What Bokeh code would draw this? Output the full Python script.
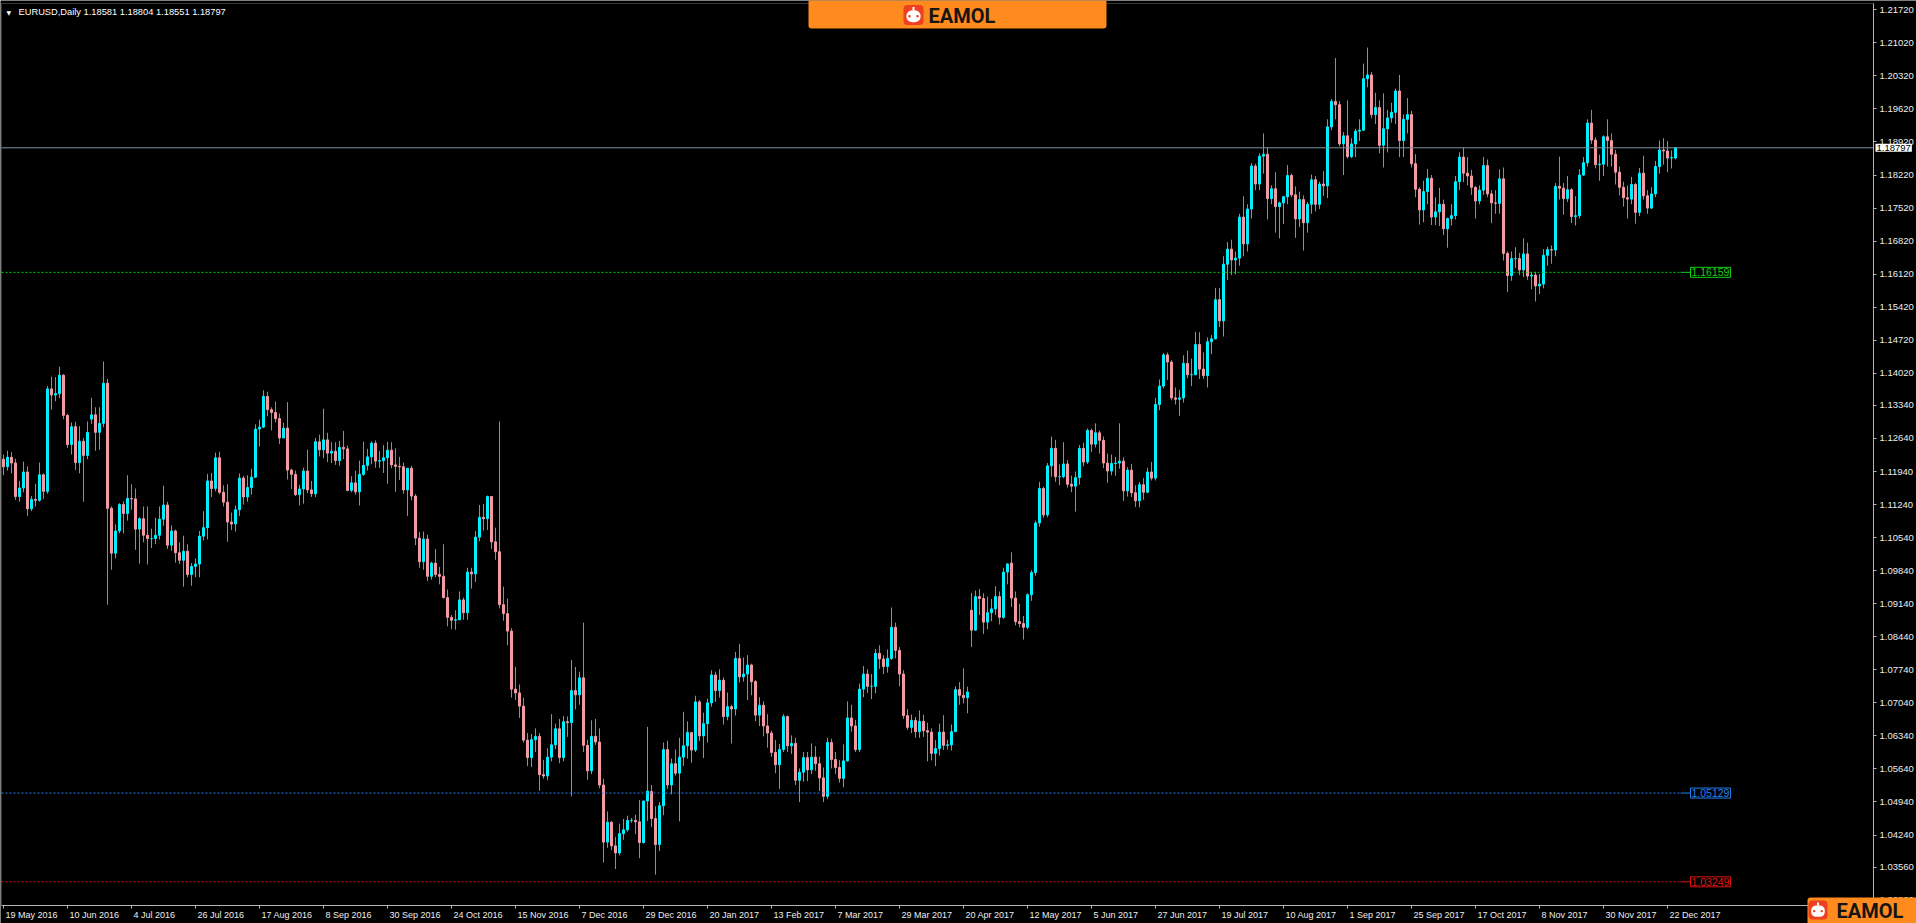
import numpy as np
from bokeh.plotting import figure
from bokeh.models import (Range1d, FixedTicker, PrintfTickFormatter, Label,
                          BoxAnnotation, LinearAxis, ColumnDataSource)
from bokeh.embed import file_html
from bokeh.resources import INLINE

# ---------------- data (O, H, L, C) per trading day ----------------
may_2016 = [
    (1.1220, 1.1230, 1.1186, 1.1204), (1.1204, 1.1238, 1.1196, 1.1224), (1.1224, 1.1235, 1.1190, 1.1212),
    (1.1212, 1.1221, 1.1134, 1.1141), (1.1141, 1.1174, 1.1130, 1.1159), (1.1159, 1.1215, 1.1150, 1.1193),
    (1.1193, 1.1205, 1.1100, 1.1115), (1.1115, 1.1142, 1.1110, 1.1135), (1.1135, 1.1168, 1.1120, 1.1133),
]
jun_2016 = [
    (1.1133, 1.1213, 1.1130, 1.1187), (1.1187, 1.1190, 1.1136, 1.1152), (1.1152, 1.1375, 1.1147, 1.1369),
    (1.1369, 1.1395, 1.1325, 1.1356), (1.1356, 1.1394, 1.1343, 1.1359), (1.1359, 1.1416, 1.1350, 1.1398),
    (1.1398, 1.1400, 1.1305, 1.1313), (1.1313, 1.1316, 1.1244, 1.1251), (1.1251, 1.1298, 1.1230, 1.1289),
    (1.1289, 1.1299, 1.1197, 1.1213), (1.1213, 1.1290, 1.1190, 1.1258), (1.1258, 1.1265, 1.1130, 1.1228),
    (1.1228, 1.1300, 1.1220, 1.1277), (1.1305, 1.1350, 1.1295, 1.1314), (1.1314, 1.1330, 1.1238, 1.1277),
    (1.1277, 1.1330, 1.1240, 1.1296), (1.1296, 1.1427, 1.1288, 1.1381), (1.1381, 1.1390, 1.0912, 1.1116),
    (1.1116, 1.1120, 1.0986, 1.1021), (1.1021, 1.1082, 1.1010, 1.1068), (1.1068, 1.1127, 1.1063, 1.1124),
    (1.1124, 1.1131, 1.1063, 1.1105),
]
jul_2016 = [
    (1.1105, 1.1186, 1.1090, 1.1137), (1.1137, 1.1167, 1.1113, 1.1136), (1.1136, 1.1158, 1.1028, 1.1072),
    (1.1072, 1.1097, 1.0999, 1.1094), (1.1094, 1.1120, 1.1044, 1.1059), (1.1059, 1.1120, 1.0997, 1.1052),
    (1.1052, 1.1073, 1.1032, 1.1052), (1.1052, 1.1096, 1.1040, 1.1059), (1.1059, 1.1120, 1.1050, 1.1093),
    (1.1093, 1.1164, 1.1079, 1.1123), (1.1123, 1.1130, 1.1030, 1.1038), (1.1038, 1.1080, 1.1026, 1.1068),
    (1.1068, 1.1071, 1.1001, 1.1022), (1.1022, 1.1044, 1.0998, 1.1006), (1.1006, 1.1058, 1.0950, 1.1025),
    (1.1025, 1.1040, 1.0970, 1.0976), (1.0976, 1.1000, 1.0952, 1.0993), (1.0993, 1.1010, 1.0970, 1.0998),
    (1.0998, 1.1068, 1.0970, 1.1057), (1.1057, 1.1110, 1.1048, 1.1075), (1.1075, 1.1189, 1.1050, 1.1174),
]
aug_2016 = [
    (1.1174, 1.1191, 1.1140, 1.1158), (1.1158, 1.1234, 1.1152, 1.1223), (1.1223, 1.1236, 1.1146, 1.1150),
    (1.1150, 1.1165, 1.1120, 1.1129), (1.1129, 1.1167, 1.1045, 1.1087), (1.1087, 1.1107, 1.1070, 1.1083),
    (1.1083, 1.1122, 1.1067, 1.1113), (1.1113, 1.1190, 1.1100, 1.1180), (1.1180, 1.1185, 1.1124, 1.1140),
    (1.1140, 1.1186, 1.1130, 1.1160), (1.1160, 1.1200, 1.1145, 1.1182), (1.1182, 1.1294, 1.1180, 1.1284),
    (1.1284, 1.1304, 1.1247, 1.1288), (1.1288, 1.1366, 1.1286, 1.1353), (1.1353, 1.1363, 1.1311, 1.1325),
    (1.1325, 1.1330, 1.1281, 1.1319), (1.1319, 1.1342, 1.1298, 1.1306), (1.1306, 1.1317, 1.1252, 1.1265),
    (1.1265, 1.1297, 1.1265, 1.1286), (1.1286, 1.1341, 1.1177, 1.1197), (1.1197, 1.1200, 1.1157, 1.1188),
    (1.1188, 1.1196, 1.1142, 1.1145), (1.1145, 1.1166, 1.1122, 1.1157),
]
sep_2016 = [
    (1.1157, 1.1202, 1.1126, 1.1195), (1.1195, 1.1240, 1.1148, 1.1155), (1.1155, 1.1174, 1.1140, 1.1147),
    (1.1147, 1.1265, 1.1140, 1.1257), (1.1257, 1.1272, 1.1226, 1.1240), (1.1240, 1.1327, 1.1222, 1.1261),
    (1.1261, 1.1276, 1.1214, 1.1233), (1.1233, 1.1256, 1.1212, 1.1237), (1.1237, 1.1256, 1.1208, 1.1217),
    (1.1217, 1.1259, 1.1206, 1.1245), (1.1245, 1.1280, 1.1220, 1.1242), (1.1242, 1.1249, 1.1152, 1.1154),
    (1.1154, 1.1184, 1.1150, 1.1170), (1.1170, 1.1196, 1.1145, 1.1151), (1.1151, 1.1217, 1.1122, 1.1188),
    (1.1188, 1.1257, 1.1185, 1.1207), (1.1207, 1.1242, 1.1196, 1.1225), (1.1225, 1.1258, 1.1210, 1.1254),
    (1.1254, 1.1260, 1.1202, 1.1216), (1.1216, 1.1237, 1.1202, 1.1217), (1.1217, 1.1250, 1.1191, 1.1223),
    (1.1223, 1.1257, 1.1168, 1.1239),
]
oct_2016 = [
    (1.1239, 1.1256, 1.1201, 1.1208), (1.1208, 1.1243, 1.1151, 1.1205), (1.1205, 1.1225, 1.1176, 1.1204),
    (1.1204, 1.1213, 1.1147, 1.1155), (1.1155, 1.1200, 1.1100, 1.1201), (1.1201, 1.1206, 1.1133, 1.1142),
    (1.1142, 1.1146, 1.1038, 1.1053), (1.1053, 1.1066, 1.0990, 1.1003), (1.1003, 1.1067, 1.0986, 1.1051),
    (1.1051, 1.1060, 1.0962, 1.0972), (1.0972, 1.1003, 1.0965, 1.1000), (1.1000, 1.1030, 1.0970, 1.0976),
    (1.0976, 1.0992, 1.0955, 1.0972), (1.0972, 1.1040, 1.0925, 1.0927), (1.0927, 1.0944, 1.0866, 1.0885),
    (1.0885, 1.0890, 1.0860, 1.0879), (1.0879, 1.0900, 1.0859, 1.0880), (1.0880, 1.0940, 1.0879, 1.0922),
    (1.0922, 1.0927, 1.0880, 1.0895), (1.0895, 1.0990, 1.0880, 1.0981), (1.0981, 1.0990, 1.0946, 1.0977),
]
nov_2016 = [
    (1.0977, 1.1068, 1.0960, 1.1055), (1.1055, 1.1123, 1.1046, 1.1097), (1.1097, 1.1125, 1.1069, 1.1094),
    (1.1094, 1.1143, 1.1070, 1.1141), (1.1141, 1.1142, 1.1030, 1.1045), (1.1045, 1.1075, 1.1007, 1.1024),
    (1.1024, 1.1300, 1.0904, 1.0912), (1.0912, 1.0950, 1.0878, 1.0893), (1.0893, 1.0925, 1.0826, 1.0856),
    (1.0856, 1.0862, 1.0715, 1.0733), (1.0733, 1.0780, 1.0710, 1.0725), (1.0725, 1.0743, 1.0672, 1.0697),
    (1.0697, 1.0715, 1.0620, 1.0625), (1.0625, 1.0640, 1.0570, 1.0588), (1.0588, 1.0638, 1.0568, 1.0626),
    (1.0626, 1.0650, 1.0600, 1.0633), (1.0633, 1.0640, 1.0518, 1.0552), (1.0552, 1.0583, 1.0543, 1.0549),
    (1.0549, 1.0608, 1.0540, 1.0589), (1.0589, 1.0680, 1.0580, 1.0615), (1.0615, 1.0660, 1.0606, 1.0649),
    (1.0649, 1.0670, 1.0576, 1.0588),
]
dec_2016 = [
    (1.0588, 1.0676, 1.0580, 1.0664), (1.0664, 1.0675, 1.0632, 1.0662), (1.0662, 1.0795, 1.0506, 1.0730),
    (1.0730, 1.0780, 1.0690, 1.0721), (1.0721, 1.0770, 1.0700, 1.0757), (1.0757, 1.0874, 1.0600, 1.0614),
    (1.0614, 1.0626, 1.0541, 1.0560), (1.0560, 1.0667, 1.0553, 1.0633), (1.0633, 1.0670, 1.0615, 1.0621),
    (1.0621, 1.0650, 1.0523, 1.0530), (1.0530, 1.0543, 1.0366, 1.0409), (1.0409, 1.0474, 1.0397, 1.0451),
    (1.0451, 1.0454, 1.0392, 1.0401), (1.0401, 1.0420, 1.0352, 1.0386), (1.0386, 1.0448, 1.0381, 1.0427),
    (1.0427, 1.0458, 1.0414, 1.0435), (1.0435, 1.0465, 1.0431, 1.0455), (1.0455, 1.0460, 1.0450, 1.0455),
    (1.0455, 1.0467, 1.0426, 1.0452), (1.0452, 1.0498, 1.0375, 1.0408), (1.0408, 1.0497, 1.0406, 1.0496),
    (1.0496, 1.0653, 1.0454, 1.0517),
]
jan_2017 = [
    (1.0516, 1.0530, 1.0441, 1.0459), (1.0459, 1.0485, 1.0340, 1.0404), (1.0404, 1.0494, 1.0390, 1.0486),
    (1.0486, 1.0620, 1.0466, 1.0605), (1.0605, 1.0624, 1.0522, 1.0530), (1.0530, 1.0586, 1.0510, 1.0575),
    (1.0575, 1.0605, 1.0550, 1.0555), (1.0555, 1.0630, 1.0453, 1.0589), (1.0589, 1.0685, 1.0570, 1.0613),
    (1.0613, 1.0665, 1.0586, 1.0641), (1.0641, 1.0641, 1.0577, 1.0604), (1.0604, 1.0719, 1.0600, 1.0706),
    (1.0706, 1.0710, 1.0623, 1.0634), (1.0634, 1.0683, 1.0587, 1.0660), (1.0660, 1.0713, 1.0620, 1.0704),
    (1.0704, 1.0773, 1.0696, 1.0763), (1.0763, 1.0770, 1.0706, 1.0730), (1.0730, 1.0775, 1.0715, 1.0752),
    (1.0752, 1.0758, 1.0658, 1.0675), (1.0675, 1.0726, 1.0667, 1.0696), (1.0696, 1.0700, 1.0618, 1.0691),
    (1.0691, 1.0812, 1.0677, 1.0798),
]
feb_2017 = [
    (1.0798, 1.0829, 1.0747, 1.0759), (1.0759, 1.0800, 1.0749, 1.0765), (1.0765, 1.0805, 1.0710, 1.0784),
    (1.0784, 1.0787, 1.0720, 1.0749), (1.0749, 1.0752, 1.0665, 1.0678), (1.0678, 1.0716, 1.0655, 1.0699),
    (1.0699, 1.0707, 1.0633, 1.0655), (1.0655, 1.0680, 1.0609, 1.0640), (1.0640, 1.0645, 1.0590, 1.0599),
    (1.0599, 1.0625, 1.0555, 1.0573), (1.0573, 1.0617, 1.0522, 1.0605), (1.0605, 1.0680, 1.0600, 1.0675),
    (1.0675, 1.0677, 1.0600, 1.0613), (1.0613, 1.0635, 1.0596, 1.0618), (1.0618, 1.0630, 1.0530, 1.0540),
    (1.0540, 1.0565, 1.0494, 1.0557), (1.0557, 1.0600, 1.0537, 1.0588), (1.0588, 1.0600, 1.0538, 1.0562),
    (1.0562, 1.0618, 1.0553, 1.0589), (1.0589, 1.0612, 1.0560, 1.0575),
]
mar_2017 = [
    (1.0575, 1.0590, 1.0517, 1.0545), (1.0545, 1.0567, 1.0494, 1.0506), (1.0506, 1.0630, 1.0500, 1.0620),
    (1.0620, 1.0628, 1.0565, 1.0584), (1.0584, 1.0600, 1.0553, 1.0567), (1.0567, 1.0583, 1.0535, 1.0544),
    (1.0544, 1.0616, 1.0525, 1.0581), (1.0581, 1.0707, 1.0580, 1.0672), (1.0672, 1.0700, 1.0643, 1.0655),
    (1.0655, 1.0668, 1.0600, 1.0605), (1.0605, 1.0745, 1.0600, 1.0733), (1.0733, 1.0782, 1.0716, 1.0765),
    (1.0765, 1.0775, 1.0725, 1.0739), (1.0739, 1.0765, 1.0712, 1.0739), (1.0739, 1.0818, 1.0724, 1.0809),
    (1.0809, 1.0826, 1.0776, 1.0797), (1.0797, 1.0805, 1.0765, 1.0781), (1.0781, 1.0817, 1.0768, 1.0798),
    (1.0798, 1.0906, 1.0795, 1.0864), (1.0864, 1.0874, 1.0798, 1.0815), (1.0815, 1.0822, 1.0739, 1.0765),
    (1.0765, 1.0773, 1.0670, 1.0677), (1.0677, 1.0691, 1.0647, 1.0652),
]
apr_2017 = [
    (1.0652, 1.0679, 1.0640, 1.0667), (1.0667, 1.0674, 1.0630, 1.0643), (1.0643, 1.0688, 1.0630, 1.0665),
    (1.0665, 1.0679, 1.0632, 1.0645), (1.0645, 1.0662, 1.0580, 1.0642), (1.0642, 1.0650, 1.0582, 1.0597),
    (1.0597, 1.0625, 1.0570, 1.0607), (1.0607, 1.0660, 1.0592, 1.0642), (1.0642, 1.0678, 1.0604, 1.0614),
    (1.0614, 1.0626, 1.0605, 1.0615), (1.0615, 1.0658, 1.0603, 1.0643), (1.0643, 1.0739, 1.0643, 1.0732),
    (1.0732, 1.0748, 1.0700, 1.0720), (1.0720, 1.0777, 1.0703, 1.0715), (1.0715, 1.0738, 1.0682, 1.0727),
    (1.0900, 1.0937, 1.0822, 1.0858), (1.0858, 1.0942, 1.0857, 1.0929), (1.0929, 1.0945, 1.0890, 1.0925),
    (1.0925, 1.0936, 1.0850, 1.0875), (1.0875, 1.0929, 1.0860, 1.0895),
]
may_2017 = [
    (1.0895, 1.0924, 1.0877, 1.0903), (1.0903, 1.0951, 1.0890, 1.0929), (1.0929, 1.0940, 1.0870, 1.0885),
    (1.0885, 1.0990, 1.0882, 1.0981), (1.0981, 1.1000, 1.0955, 1.0998), (1.1000, 1.1023, 1.0907, 1.0926),
    (1.0926, 1.0940, 1.0868, 1.0876), (1.0876, 1.0914, 1.0864, 1.0872), (1.0872, 1.0888, 1.0838, 1.0864),
    (1.0864, 1.0936, 1.0860, 1.0933), (1.0933, 1.0985, 1.0920, 1.0980), (1.0980, 1.1090, 1.0973, 1.1085),
    (1.1085, 1.1172, 1.1077, 1.1158), (1.1158, 1.1162, 1.1096, 1.1102), (1.1102, 1.1212, 1.1097, 1.1206),
    (1.1206, 1.1268, 1.1183, 1.1243), (1.1243, 1.1261, 1.1172, 1.1183), (1.1183, 1.1209, 1.1165, 1.1183),
    (1.1183, 1.1256, 1.1180, 1.1210), (1.1210, 1.1218, 1.1160, 1.1167), (1.1167, 1.1185, 1.1150, 1.1163),
    (1.1163, 1.1194, 1.1109, 1.1181), (1.1181, 1.1250, 1.1166, 1.1243),
]
jun_2017 = [
    (1.1243, 1.1255, 1.1205, 1.1214), (1.1214, 1.1285, 1.1210, 1.1281), (1.1281, 1.1285, 1.1235, 1.1252),
    (1.1252, 1.1296, 1.1245, 1.1276), (1.1276, 1.1281, 1.1232, 1.1260), (1.1260, 1.1268, 1.1201, 1.1212),
    (1.1212, 1.1232, 1.1170, 1.1195), (1.1195, 1.1230, 1.1186, 1.1211), (1.1211, 1.1225, 1.1185, 1.1212),
    (1.1212, 1.1296, 1.1200, 1.1216), (1.1216, 1.1224, 1.1132, 1.1153), (1.1153, 1.1203, 1.1141, 1.1197),
    (1.1197, 1.1210, 1.1140, 1.1149), (1.1149, 1.1165, 1.1119, 1.1132), (1.1132, 1.1172, 1.1118, 1.1166),
    (1.1166, 1.1180, 1.1134, 1.1150), (1.1150, 1.1202, 1.1148, 1.1193), (1.1193, 1.1214, 1.1175, 1.1180),
    (1.1180, 1.1350, 1.1175, 1.1336), (1.1336, 1.1389, 1.1324, 1.1375), (1.1375, 1.1445, 1.1370, 1.1441),
    (1.1441, 1.1446, 1.1388, 1.1426),
]
jul_2017 = [
    (1.1426, 1.1430, 1.1345, 1.1350), (1.1350, 1.1372, 1.1336, 1.1347), (1.1347, 1.1367, 1.1312, 1.1350),
    (1.1350, 1.1440, 1.1340, 1.1423), (1.1423, 1.1450, 1.1392, 1.1399), (1.1399, 1.1433, 1.1375, 1.1399),
    (1.1399, 1.1490, 1.1398, 1.1463), (1.1463, 1.1489, 1.1390, 1.1411), (1.1411, 1.1446, 1.1390, 1.1397),
    (1.1397, 1.1478, 1.1372, 1.1469), (1.1469, 1.1483, 1.1443, 1.1475), (1.1475, 1.1583, 1.1474, 1.1558),
    (1.1558, 1.1583, 1.1500, 1.1513), (1.1513, 1.1650, 1.1480, 1.1633), (1.1633, 1.1680, 1.1600, 1.1665),
    (1.1665, 1.1685, 1.1610, 1.1642), (1.1642, 1.1660, 1.1612, 1.1646), (1.1646, 1.1740, 1.1630, 1.1733),
    (1.1733, 1.1777, 1.1650, 1.1676), (1.1676, 1.1760, 1.1660, 1.1750), (1.1750, 1.1847, 1.1730, 1.1841),
]
aug_2017 = [
    (1.1841, 1.1846, 1.1790, 1.1803), (1.1803, 1.1868, 1.1790, 1.1862), (1.1862, 1.1910, 1.1825, 1.1866),
    (1.1866, 1.1880, 1.1728, 1.1772), (1.1772, 1.1800, 1.1760, 1.1793), (1.1793, 1.1828, 1.1700, 1.1755),
    (1.1755, 1.1766, 1.1688, 1.1763), (1.1763, 1.1778, 1.1718, 1.1776), (1.1776, 1.1843, 1.1760, 1.1821),
    (1.1821, 1.1825, 1.1775, 1.1780), (1.1780, 1.1798, 1.1689, 1.1729), (1.1729, 1.1787, 1.1712, 1.1770),
    (1.1770, 1.1779, 1.1662, 1.1721), (1.1721, 1.1765, 1.1700, 1.1760), (1.1760, 1.1823, 1.1740, 1.1812),
    (1.1812, 1.1820, 1.1745, 1.1760), (1.1760, 1.1808, 1.1750, 1.1803), (1.1803, 1.1830, 1.1778, 1.1799),
    (1.1799, 1.1940, 1.1773, 1.1924), (1.1924, 1.1983, 1.1917, 1.1978), (1.1978, 1.2070, 1.1940, 1.1971),
    (1.1971, 1.1979, 1.1883, 1.1888), (1.1888, 1.1913, 1.1822, 1.1905),
]
sep_2017 = [
    (1.1905, 1.1980, 1.1857, 1.1861), (1.1861, 1.1900, 1.1858, 1.1888), (1.1888, 1.1920, 1.1860, 1.1915),
    (1.1915, 1.1940, 1.1894, 1.1917), (1.1917, 1.2058, 1.1915, 1.2026), (1.2026, 1.2092, 1.2008, 1.2034),
    (1.2034, 1.2040, 1.1942, 1.1950), (1.1950, 1.1996, 1.1930, 1.1965), (1.1965, 1.1980, 1.1868, 1.1885),
    (1.1885, 1.1995, 1.1838, 1.1920), (1.1920, 1.1960, 1.1870, 1.1943), (1.1943, 1.1975, 1.1933, 1.1955),
    (1.1955, 1.2005, 1.1930, 1.2000), (1.2000, 1.2034, 1.1860, 1.1895), (1.1895, 1.1950, 1.1860, 1.1940),
    (1.1940, 1.1985, 1.1910, 1.1950), (1.1950, 1.1958, 1.1838, 1.1846), (1.1846, 1.1866, 1.1775, 1.1792),
    (1.1792, 1.1796, 1.1717, 1.1748), (1.1748, 1.1810, 1.1722, 1.1787), (1.1787, 1.1835, 1.1760, 1.1815),
]
oct_2017 = [
    (1.1815, 1.1822, 1.1716, 1.1733), (1.1733, 1.1775, 1.1716, 1.1744), (1.1744, 1.1795, 1.1714, 1.1760),
    (1.1760, 1.1770, 1.1695, 1.1708), (1.1708, 1.1732, 1.1668, 1.1730), (1.1730, 1.1760, 1.1715, 1.1736),
    (1.1736, 1.1820, 1.1728, 1.1808), (1.1808, 1.1870, 1.1790, 1.1860), (1.1860, 1.1880, 1.1807, 1.1826),
    (1.1826, 1.1860, 1.1800, 1.1820), (1.1820, 1.1833, 1.1780, 1.1796), (1.1796, 1.1798, 1.1730, 1.1767),
    (1.1767, 1.1800, 1.1760, 1.1790), (1.1790, 1.1860, 1.1780, 1.1842), (1.1842, 1.1855, 1.1775, 1.1782),
    (1.1782, 1.1790, 1.1720, 1.1763), (1.1763, 1.1790, 1.1740, 1.1762), (1.1762, 1.1834, 1.1740, 1.1814),
    (1.1814, 1.1838, 1.1641, 1.1656), (1.1656, 1.1660, 1.1574, 1.1609), (1.1609, 1.1660, 1.1598, 1.1645),
    (1.1645, 1.1669, 1.1625, 1.1645),
]
nov_2017 = [
    (1.1645, 1.1657, 1.1610, 1.1621), (1.1621, 1.1688, 1.1606, 1.1655), (1.1655, 1.1679, 1.1600, 1.1608),
    (1.1608, 1.1617, 1.1580, 1.1610), (1.1610, 1.1617, 1.1554, 1.1587), (1.1587, 1.1612, 1.1570, 1.1591),
    (1.1591, 1.1665, 1.1582, 1.1652), (1.1652, 1.1670, 1.1630, 1.1664), (1.1664, 1.1673, 1.1634, 1.1663),
    (1.1663, 1.1805, 1.1650, 1.1798), (1.1798, 1.1861, 1.1770, 1.1794), (1.1794, 1.1805, 1.1738, 1.1772),
    (1.1772, 1.1820, 1.1765, 1.1791), (1.1791, 1.1794, 1.1720, 1.1734), (1.1734, 1.1777, 1.1715, 1.1736),
    (1.1736, 1.1834, 1.1730, 1.1822), (1.1822, 1.1860, 1.1820, 1.1848), (1.1848, 1.1940, 1.1840, 1.1932),
    (1.1932, 1.1960, 1.1888, 1.1896), (1.1896, 1.1902, 1.1836, 1.1844), (1.1844, 1.1865, 1.1810, 1.1845),
    (1.1845, 1.1906, 1.1820, 1.1903),
]
dec_2017 = [
    (1.1903, 1.1940, 1.1840, 1.1895), (1.1895, 1.1910, 1.1840, 1.1866), (1.1866, 1.1875, 1.1802, 1.1828),
    (1.1828, 1.1840, 1.1779, 1.1796), (1.1796, 1.1808, 1.1755, 1.1774), (1.1774, 1.1800, 1.1730, 1.1771),
    (1.1771, 1.1818, 1.1760, 1.1802), (1.1802, 1.1805, 1.1719, 1.1743), (1.1743, 1.1837, 1.1735, 1.1826),
    (1.1826, 1.1863, 1.1770, 1.1778), (1.1778, 1.1790, 1.1740, 1.1752), (1.1752, 1.1796, 1.1750, 1.1782),
    (1.1782, 1.1852, 1.1775, 1.1840), (1.1840, 1.1895, 1.1825, 1.1875), (1.1875, 1.1900, 1.1844, 1.1873),
    (1.1873, 1.1894, 1.1828, 1.1858), (1.1858, 1.1874, 1.1836, 1.1859), (1.18581, 1.18804, 1.18551, 1.18797),
]

symbol_title = "EURUSD,Daily"
x_tick_labels = ["19 May 2016", "10 Jun 2016", "4 Jul 2016", "26 Jul 2016", "17 Aug 2016", "8 Sep 2016",
                 "30 Sep 2016", "24 Oct 2016", "15 Nov 2016", "7 Dec 2016", "29 Dec 2016", "20 Jan 2017",
                 "13 Feb 2017", "7 Mar 2017", "29 Mar 2017", "20 Apr 2017", "12 May 2017", "5 Jun 2017",
                 "27 Jun 2017", "19 Jul 2017", "10 Aug 2017", "1 Sep 2017", "25 Sep 2017", "17 Oct 2017",
                 "8 Nov 2017", "30 Nov 2017", "22 Dec 2017"]
y_tick_values = [1.02860, 1.03560, 1.04240, 1.04940, 1.05640, 1.06340, 1.07040, 1.07740, 1.08440,
                 1.09140, 1.09840, 1.10540, 1.11240, 1.11940, 1.12640, 1.13340, 1.14020, 1.14720,
                 1.15420, 1.16120, 1.16820, 1.17520, 1.18220, 1.18920, 1.19620, 1.20320, 1.21020, 1.21720]
level_values = [1.16159, 1.05129, 1.03249]
level_colors = ["#10D010", "#2080F0", "#E01010"]

# ---------------- assemble ----------------
months = [may_2016, jun_2016, jul_2016, aug_2016, sep_2016, oct_2016, nov_2016, dec_2016,
          jan_2017, feb_2017, mar_2017, apr_2017, may_2017, jun_2017, jul_2017, aug_2017,
          sep_2017, oct_2017, nov_2017, dec_2017]
ohlc = np.array([row for m in months for row in m])
opens, highs, lows, closes = ohlc.T
n = len(closes)
idx = np.arange(n)
up = closes >= opens

BULL_BODY, BULL_WICK = "#00F0FF", "#22BFCB"
BEAR_BODY, BEAR_WICK = "#F49AA4", "#B57C84"

src = ColumnDataSource(dict(
    x=idx, o=opens, h=highs, l=lows, c=closes,
    top=np.maximum(opens, closes), bottom=np.minimum(opens, closes),
    body=[BULL_BODY if u else BEAR_BODY for u in up],
    wick=[BULL_WICK if u else BEAR_WICK for u in up],
))

# ---------------- geometry: reference pixel -> data helpers ----------------
W, H = 1916, 923
BAR_PX, BAR0_PX = 4.0, 3.0            # bar pitch / first bar position
PRICE_PX, PRICE_REF, PRICE_REF_Y = 4721.0, 1.21720, 9.3


def dx(X):
    return (X - BAR0_PX) / BAR_PX


def dy(Y):
    return PRICE_REF - (Y - PRICE_REF_Y) / PRICE_PX


LEFT, RIGHT, TOP, BOTTOM = dx(1), dx(1873), dy(3), dy(905)   # MT4 chart window frame

p = figure(width=W, height=H, output_backend="svg", toolbar_location=None,
           x_range=Range1d(dx(0), dx(W)), y_range=Range1d(dy(H), dy(0)),
           x_axis_location=None, y_axis_location=None,
           background_fill_color="#000000", border_fill_color="#000000",
           min_border=0, outline_line_color=None)
p.grid.visible = False

FONT = "Liberation Sans"
AX_COLOR = "#B4B4B4"
TXT = "#EDEDED"

# chart window frame
p.add_layout(BoxAnnotation(left=LEFT, right=RIGHT, top=TOP, bottom=BOTTOM, fill_alpha=0,
                           line_color=AX_COLOR, line_width=1, level="underlay"))

# right price axis
ya = LinearAxis(fixed_location=RIGHT, bounds=(BOTTOM, TOP),
                ticker=FixedTicker(ticks=y_tick_values),
                formatter=PrintfTickFormatter(format="%.5f"))
ya.axis_line_color = AX_COLOR
ya.major_tick_line_color = AX_COLOR
ya.major_tick_out = 3
ya.major_tick_in = 0
ya.minor_tick_line_color = None
ya.major_label_standoff = 3
ya.major_label_text_font = FONT
ya.major_label_text_font_size = "9.5px"
ya.major_label_text_color = TXT
p.add_layout(ya, "right")

# bottom date axis: tick marks at the bars ...
x_ticks = [16 * i for i in range(len(x_tick_labels))]
xa_marks = LinearAxis(fixed_location=BOTTOM, bounds=(LEFT, RIGHT), ticker=FixedTicker(ticks=x_ticks))
xa_marks.major_label_overrides = {t: "" for t in x_ticks}
xa_marks.axis_line_color = AX_COLOR
xa_marks.major_tick_line_color = AX_COLOR
xa_marks.major_tick_out = 3
xa_marks.major_tick_in = 0
xa_marks.minor_tick_line_color = None
p.add_layout(xa_marks, "below")

# ... and labels that start at each tick (MT4 style, left aligned)
CHAR_EM = {" ": .278, "M": .833, "J": .5, "A": .667, "S": .667, "O": .778, "N": .722, "D": .722,
           "F": .611, "a": .556, "y": .5, "u": .556, "n": .556, "l": .222, "g": .556, "e": .556,
           "p": .556, "c": .5, "t": .278, "o": .556, "v": .5, "b": .556, "r": .333}
XFONT = 9.0
px_per_bar = W / (dx(W) - dx(0))
label_pos = []
for t, lab in zip(x_ticks, x_tick_labels):
    wpx = sum(CHAR_EM.get(ch, .556) for ch in lab) * XFONT
    label_pos.append(round(t + (2 + wpx / 2) / px_per_bar, 3))
xa_lab = LinearAxis(fixed_location=BOTTOM, bounds=(LEFT, RIGHT), ticker=FixedTicker(ticks=label_pos))
xa_lab.major_label_overrides = {pos: lab for pos, lab in zip(label_pos, x_tick_labels)}
xa_lab.axis_line_color = None
xa_lab.major_tick_line_color = None
xa_lab.minor_tick_line_color = None
xa_lab.major_tick_out = 0
xa_lab.major_tick_in = 0
xa_lab.major_label_standoff = 4
xa_lab.major_label_text_font = FONT
xa_lab.major_label_text_font_size = f"{XFONT}px"
xa_lab.major_label_text_color = TXT
p.add_layout(xa_lab, "below")

# candles
p.segment(x0="x", y0="l", x1="x", y1="h", line_color="wick", line_width=1, source=src)
p.vbar(x="x", width=0.5, top="top", bottom="bottom", fill_color="body",
       line_color="body", line_width=1, source=src)

# horizontal levels (dotted) with price tags
line_end = n + 0.25
tag_x = n + 2.75
for lv, col in zip(level_values, level_colors):
    p.segment(x0=[LEFT], y0=[lv], x1=[line_end], y1=[lv], line_color=col,
              line_width=1, line_dash="2 2")
    p.segment(x0=[line_end], y0=[lv], x1=[tag_x], y1=[lv], line_color=col, line_width=1)
    p.add_layout(Label(x=tag_x, y=lv, text=f"{lv:.5f}", text_color=col, text_font=FONT,
                       text_font_size="10.5px", text_baseline="middle", text_align="left",
                       background_fill_color="#000000", border_line_color=col,
                       border_line_width=1, padding=1))

# bid line and bid tag on the price axis
bid = closes[-1]
p.segment(x0=[LEFT], y0=[bid], x1=[RIGHT], y1=[bid], line_color="#8090A0", line_width=1)
p.add_layout(Label(x=dx(1875), y=bid, text=f"{bid:.5f}", text_color="#000000", text_font=FONT,
                   text_font_size="9.5px", text_baseline="middle", text_align="left",
                   background_fill_color="#FFFFFF", padding=1))

# top-left symbol caption
caption = f"{symbol_title}  {opens[-1]:.5f} {highs[-1]:.5f} {lows[-1]:.5f} {closes[-1]:.5f}"
p.add_layout(Label(x=dx(6), y=dy(11.5), text="\u25BC", text_color="#FFFFFF",
                   text_font="DejaVu Sans", text_font_size="6px", text_baseline="middle"))
p.add_layout(Label(x=dx(18), y=dy(11.5), text=caption, text_color="#FFFFFF", text_font=FONT,
                   text_font_size="9.3px", text_baseline="middle"))

# ---------------- brand badges ----------------
ORANGE = "#FF8A1E"
RED = "#EE4020"


def box(X0, X1, Y0, Y1, color, radius=0):
    p.add_layout(BoxAnnotation(left=dx(X0), right=dx(X1), top=dy(Y0), bottom=dy(Y1),
                               fill_color=color, fill_alpha=1.0, line_color=None,
                               border_radius=radius, level="overlay"))


def badge(X0, X1, Y0, Y1, icon_x, icon_y, text_x, text_y, size, font_px):
    box(X0, X1, Y0, Y1, ORANGE, 3)
    s = size
    box(icon_x, icon_x + s, icon_y - s / 2, icon_y + s / 2, RED, 4)
    hw, hh = s * 0.36, s * 0.30
    cx, cy = icon_x + s / 2, icon_y + s * 0.06
    box(cx - hw, cx + hw, cy - hh, cy + hh, "#FFFFFF", int(s * 0.3))
    box(cx - 1, cx + 1, icon_y - s / 2 + 2, cy - hh, "#FFFFFF")
    box(cx - hw * 0.55 - 1.2, cx - hw * 0.55 + 1.2, cy - 1.2, cy + 1.2, RED, 1)
    box(cx + hw * 0.55 - 1.2, cx + hw * 0.55 + 1.2, cy - 1.2, cy + 1.2, RED, 1)
    p.add_layout(Label(x=dx(text_x), y=dy(text_y), text="EAMOL", text_color="#151515",
                       text_font="Roboto", text_font_style="bold",
                       text_font_size=f"{font_px}px", text_baseline="middle", level="overlay"))


badge(808, 1106, -3, 28, 903, 14.5, 928, 15.5, 20, 20)
badge(1807, 1922, 897, 926, 1808, 909.5, 1836, 910.5, 19, 20)

open("out.html", "w").write(file_html(p, INLINE))
